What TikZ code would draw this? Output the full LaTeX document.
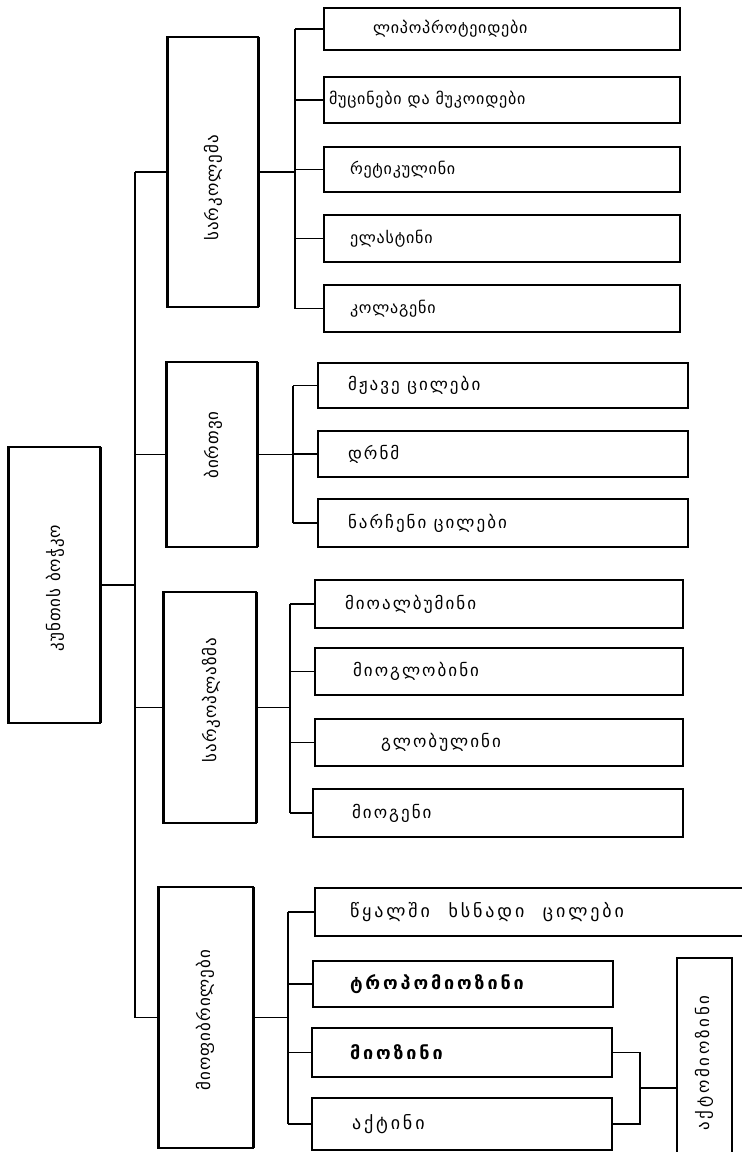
\documentclass[tikz,border=0pt]{standalone}
\usepackage{fontspec}
\setmainfont{DejaVu Sans}
\newfontfamily\geoA{DejaVu Sans}[LetterSpace=5]
\newfontfamily\geoB{DejaVu Sans}[LetterSpace=12]
\newfontfamily\geoD{DejaVu Sans}[LetterSpace=16]
\newfontfamily\geoR{DejaVu Sans}[LetterSpace=6]
\newcommand{\kbox}[8]{%
 \pgfmathsetmacro{\kw}{#5-#3}\pgfmathsetmacro{\kh}{#6-#4}%
 \pgfmathsetmacro{\kx}{(#3+#5)/2}\pgfmathsetmacro{\ky}{(#4+#6)/2}%
 \node[#1,minimum width=\kw pt,minimum height=\kh pt] (#2) at (\kx,\ky) {\makebox[\kw pt][l]{\hspace*{#7pt}#8}};}
\newcommand{\gboxx}[5]{%
 \pgfmathsetmacro{\kw}{#4-#2}\pgfmathsetmacro{\kh}{#5-#3}%
 \pgfmathsetmacro{\kx}{(#2+#4)/2}\pgfmathsetmacro{\ky}{(#3+#5)/2}%
 \node[gbox,minimum width=\kw pt,minimum height=\kh pt] (#1) at (\kx,\ky) {};}
\begin{document}
\begin{tikzpicture}[x=1pt,y=-1pt,
  cbox/.style={draw,line width=1.2pt,inner sep=0pt,outer sep=0pt,font=\geoA\fontsize{16}{18}\selectfont},
  mbox/.style={cbox,font=\geoB\fontsize{17}{19}\selectfont},
  dbox/.style={cbox,font=\geoD\fontsize{18}{20}\selectfont},
  bbox/.style={cbox,font=\geoD\fontsize{18}{20}\selectfont\bfseries},
  gbox/.style={draw,line width=1.5pt,inner sep=0pt,outer sep=0pt},
  side/.style={line width=3pt},
  rlbl/.style={inner sep=0pt,rotate=90,font=\geoR\fontsize{17}{19}\selectfont},
  conn/.style={line width=1.1pt}]
\clip (0,0) rectangle (742,1152);
\fill[white] (0,0) rectangle (742,1152);
% main boxes
\gboxx{root}{8}{447}{100}{723}
\gboxx{sa}{167}{37}{258}{307}
\gboxx{nu}{166}{362}{257}{547}
\gboxx{sp}{163}{592}{256}{823}
\gboxx{mf}{158}{887}{253}{1148}
\gboxx{am}{677}{958}{732}{1170}
\foreach \n in {root,sa,nu,sp,mf}
  \draw[side] (\n.north west) -- (\n.south west) (\n.north east) -- (\n.south east);
\node[rlbl] (rootL) at (55,588) {კუნთის ბოჭკო};
\node[rlbl] (saL) at (213,188) {სარკოლემა};
\node[rlbl] (nuL) at (213,445) {ბირთვი};
\node[rlbl] (spL) at (211,700) {სარკოპლაზმა};
\node[rlbl] (mfL) at (205,1020) {მიოფიბრილები};
\node[rlbl,font=\geoD\fontsize{17}{19}\selectfont] (amL) at (704,1063) {აქტომიოზინი};
% sarcolemma children
\kbox{cbox}{a1}{324}{8}{680}{50}{49}{ლიპოპროტეიდები}
\kbox{cbox}{a2}{324}{77}{680}{123}{5}{მუცინები და მუკოიდები}
\kbox{cbox}{a3}{324}{147}{680}{192}{26}{რეტიკულინი}
\kbox{cbox}{a4}{324}{215}{680}{262}{26}{ელასტინი}
\kbox{cbox}{a5}{324}{285}{680}{332}{26}{კოლაგენი}
% nucleus children
\kbox{mbox}{b1}{318}{363}{688}{408}{30}{მჟავე ცილები}
\kbox{mbox}{b2}{318}{431}{688}{477}{30}{დრნმ}
\kbox{mbox}{b3}{318}{499}{688}{547}{30}{ნარჩენი ცილები}
% sarcoplasm children
\kbox{mbox}{c1}{315}{580}{683}{628}{30}{მიოალბუმინი}
\kbox{mbox}{c2}{315}{648}{683}{695}{38}{მიოგლობინი}
\kbox{mbox}{c3}{315}{719}{683}{766}{66}{გლობულინი}
\kbox{mbox}{c4}{313}{789}{683}{837}{39}{მიოგენი}
% myofibril children
\kbox{dbox}{d1}{315}{888}{770}{936}{35}{წყალში\hspace{10pt} ხსნადი\hspace{10pt} ცილები}
\kbox{bbox}{d2}{313}{961}{613}{1007}{37}{ტროპომიოზინი}
\kbox{bbox}{d3}{312}{1028}{612}{1077}{38}{მიოზინი}
\kbox{dbox}{d4}{312}{1098}{612}{1150}{40}{აქტინი}
% trunk
\coordinate (trk) at (135,0);
\draw[conn] (trk |- sa.west) -- (trk |- mf.west);
\draw[conn] (root.east) -- (root.east -| trk);
\foreach \n in {sa,nu,sp,mf} \draw[conn] (trk |- \n.west) -- (\n.west);
% sub verticals
\coordinate (sva) at (295,0);
\coordinate (svb) at (293,0);
\coordinate (svc) at (290,0);
\coordinate (svd) at (288,0);
\draw[conn] (sa.east) -- (sa.east -| sva);
\draw[conn] (sva |- a1.west) -- (sva |- a5.west);
\foreach \n in {a1,a2,a3,a4,a5} \draw[conn] (sva |- \n.west) -- (\n.west);
\draw[conn] (nu.east) -- (nu.east -| svb);
\draw[conn] (svb |- b1.west) -- (svb |- b3.west);
\foreach \n in {b1,b2,b3} \draw[conn] (svb |- \n.west) -- (\n.west);
\draw[conn] (sp.east) -- (sp.east -| svc);
\draw[conn] (svc |- c1.west) -- (svc |- c4.west);
\foreach \n in {c1,c2,c3,c4} \draw[conn] (svc |- \n.west) -- (\n.west);
\draw[conn] (mf.east) -- (mf.east -| svd);
\draw[conn] (svd |- d1.west) -- (svd |- d4.west);
\foreach \n in {d1,d2,d3,d4} \draw[conn] (svd |- \n.west) -- (\n.west);
% bracket to actomyosin
\coordinate (br) at (640,1088);
\draw[conn] (d3.east) -- (d3.east -| br) -- (d4.east -| br) -- (d4.east);
\draw[conn] (br) -- (br -| am.west);
\end{tikzpicture}
\end{document}
